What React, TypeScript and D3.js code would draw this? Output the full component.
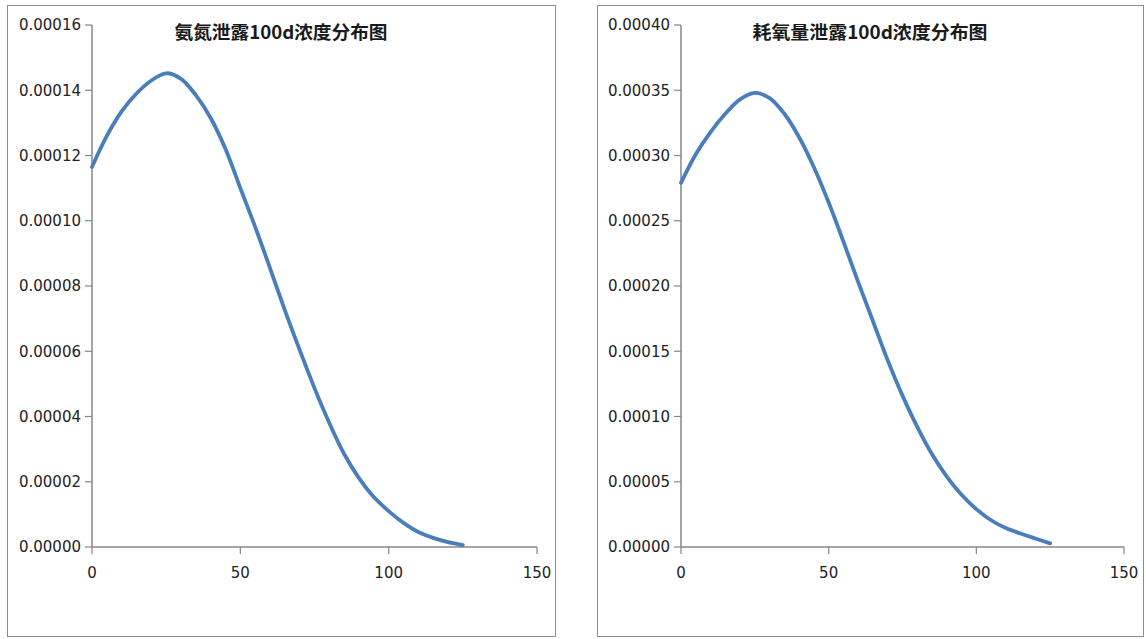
import React from "react";
import * as d3 from "d3";

// ---- data ----
const distance: number[] = [0, 5, 10, 15, 20, 25, 30, 35, 40, 45, 50, 55, 60, 65, 70, 75, 80, 85, 90, 95, 100, 105, 110, 115, 120, 125];

const ammoniaConc: number[] = [
  0.0001165, 0.000126, 0.0001335, 0.000139, 0.000143, 0.0001452, 0.0001435, 0.0001385,
  0.0001315, 0.000122, 0.00011, 0.0000981, 0.0000855, 0.0000726, 0.0000604, 0.0000487,
  0.000038, 0.0000285, 0.0000211, 0.0000153, 0.000011, 0.0000074, 0.0000046, 0.0000028,
  0.0000015, 0.0000006,
];

const codConc: number[] = [
  0.000279, 0.000301, 0.000318, 0.000332, 0.000343, 0.000348, 0.000344, 0.000332,
  0.000314, 0.000291, 0.000264, 0.000234, 0.000203, 0.000173, 0.000143, 0.000116,
  0.000092, 0.000071, 0.000054, 0.00004, 0.000029, 0.0000205, 0.0000145, 0.0000103,
  0.0000065, 0.0000028,
];

const xTicks: number[] = [0, 50, 100, 150];
const ammoniaYTicks: number[] = [0, 0.00002, 0.00004, 0.00006, 0.00008, 0.0001, 0.00012, 0.00014, 0.00016];
const codYTicks: number[] = [0, 0.00005, 0.0001, 0.00015, 0.0002, 0.00025, 0.0003, 0.00035, 0.0004];

const ammoniaTitle = "氨氮泄露100d浓度分布图";
const codTitle = "耗氧量泄露100d浓度分布图";

// ---- styles ----
const LINE_COLOR = "#4a7ebb";
const AXIS_COLOR = "#868686";
const FRAME_COLOR = "#8c8c8c";
const TEXT_COLOR = "#222";
const TICK_FONT = "'DejaVu Sans', sans-serif";
const TITLE_FONT = "'Noto Sans CJK SC', sans-serif";

type PanelProps = {
  frame: [number, number, number, number];
  plot: { left: number; right: number; top: number; bottom: number };
  xs: number[];
  ys: number[];
  yTicks: number[];
  title: string;
  titleX: number;
  titleLen: number;
};

function Panel({ frame, plot, xs, ys, yTicks, title, titleX, titleLen }: PanelProps) {
  const x = d3.scaleLinear().domain([0, 150]).range([plot.left, plot.right]);
  const y = d3
    .scaleLinear()
    .domain([0, yTicks[yTicks.length - 1]])
    .range([plot.bottom, plot.top]);
  const line = d3
    .line<number>()
    .x((_, i) => x(xs[i]))
    .y((d) => y(d))
    .curve(d3.curveCatmullRom.alpha(0.5));
  const [fx0, fy0, fx1, fy1] = frame;
  return (
    <g>
      <rect x={fx0 + 0.5} y={fy0 + 0.5} width={fx1 - fx0} height={fy1 - fy0} fill="#fff" stroke={FRAME_COLOR} strokeWidth={1} />
      {/* y axis */}
      <line x1={plot.left} x2={plot.left} y1={plot.top} y2={plot.bottom} stroke={AXIS_COLOR} strokeWidth={1.5} />
      {yTicks.map((t) => (
        <g key={"y" + t}>
          <line x1={plot.left - 7} x2={plot.left} y1={y(t)} y2={y(t)} stroke={AXIS_COLOR} strokeWidth={1.2} />
          <text
            x={plot.left - 11}
            y={y(t)}
            dy="0.36em"
            textAnchor="end"
            fontFamily={TICK_FONT}
            fontSize={15}
            fill={TEXT_COLOR}
          >
            {t.toFixed(5)}
          </text>
        </g>
      ))}
      {/* x axis */}
      <line x1={plot.left} x2={plot.right} y1={plot.bottom} y2={plot.bottom} stroke={AXIS_COLOR} strokeWidth={1.5} />
      {xTicks.map((t) => (
        <g key={"x" + t}>
          <line x1={x(t)} x2={x(t)} y1={plot.bottom} y2={plot.bottom + 7} stroke={AXIS_COLOR} strokeWidth={1.2} />
          <text
            x={x(t)}
            y={plot.bottom + 31}
            textAnchor="middle"
            fontFamily={TICK_FONT}
            fontSize={15}
            fill={TEXT_COLOR}
          >
            {t}
          </text>
        </g>
      ))}
      <path d={line(ys) || ""} fill="none" stroke={LINE_COLOR} strokeWidth={3.8} strokeLinecap="round" strokeLinejoin="round" />
      <text
        x={titleX}
        y={39}
        textAnchor="middle"
        fontFamily={TITLE_FONT}
        fontWeight="bold"
        fontSize={18}
        fill="#1a1a1a"
        textLength={titleLen}
        lengthAdjust="spacingAndGlyphs"
      >
        {title}
      </text>
    </g>
  );
}

export default function App() {
  return (
    <svg
      width={1146}
      height={639}
      style={{ position: "absolute", left: 0, top: 0, background: "#fff" }}
    >
      <rect x={0} y={0} width={1146} height={639} fill="#fff" />
      <Panel
        frame={[7, 5, 555, 636]}
        plot={{ left: 92, right: 537, top: 25, bottom: 547 }}
        xs={distance}
        ys={ammoniaConc}
        yTicks={ammoniaYTicks}
        title={ammoniaTitle}
        titleX={281}
        titleLen={213}
      />
      <Panel
        frame={[597, 5, 1143, 636]}
        plot={{ left: 681, right: 1124, top: 25, bottom: 547 }}
        xs={distance}
        ys={codConc}
        yTicks={codYTicks}
        title={codTitle}
        titleX={870}
        titleLen={235}
      />
    </svg>
  );
}
